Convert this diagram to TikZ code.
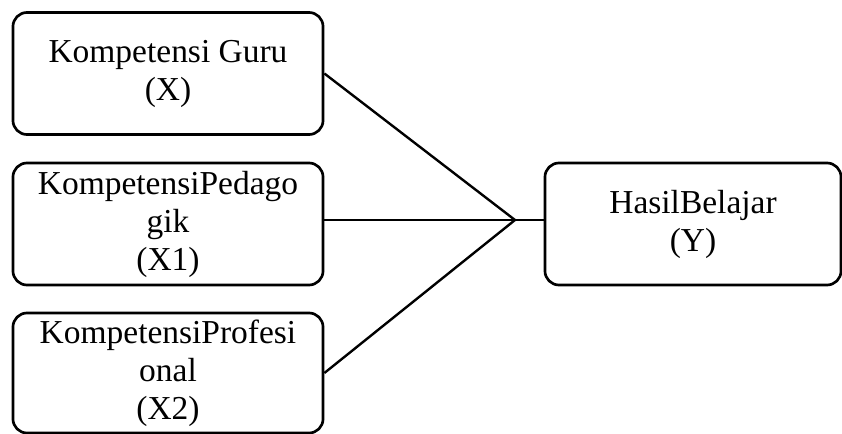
\documentclass[tikz,border=0pt]{standalone}
\usepackage{fontspec}
\setmainfont{Liberation Serif}
\usetikzlibrary{positioning}

\begin{document}
\begin{tikzpicture}[x=0.025cm,y=-0.025cm,
  kotak/.style={draw, line width=1.9pt, rounded corners=10pt, align=center, inner sep=0pt,
    minimum width=7.75cm, minimum height=3.05cm, font=\fontsize{23.8}{27}\selectfont},
  garis/.style={line width=1.7pt}]
\useasboundingbox (0,0) rectangle (842,434);
\node[kotak] (x) at (168,73.5) {Kompetensi Guru\\(X)};
\node[kotak] (x1) at (168,224) {KompetensiPedago\\gik\\(X1)};
\node[kotak, minimum height=3.0cm] (x2) at (168,373) {KompetensiProfesi\\onal\\(X2)};
\node[kotak, minimum width=7.4cm] (y) at (693,224) {HasilBelajar\\(Y)};
\coordinate (j) at (515,220);
\draw[garis] (x.east) -- (j);
\draw[garis] (x2.east) -- (j);
\draw[garis] (x1.east |- j) -- (j) -- (y.west |- j);
\end{tikzpicture}
\end{document}
